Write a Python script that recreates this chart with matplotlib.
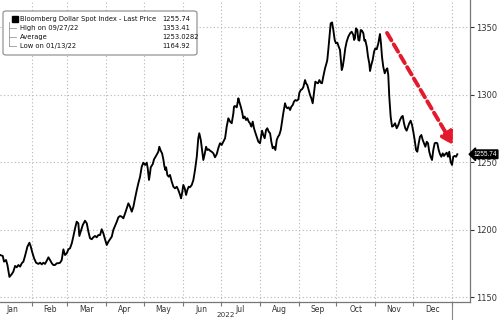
import numpy as np
import matplotlib
matplotlib.use('Agg')
import matplotlib.pyplot as plt
import matplotlib.transforms as mtransforms
from matplotlib.patches import FancyBboxPatch, Rectangle

# days since 2022-01-01 and index level
days = [5.6, 7.7, 8.7, 10.3, 11.4, 13.0, 14.9, 16.1, 17.5, 18.8, 20.1, 21.5, 22.8, 24.1, 25.4, 27.3, 28.9, 30.0,
        31.0, 32.6, 34.2, 36.0, 37.4, 38.7, 40.0, 41.3, 42.7, 44.0, 45.3, 46.7, 47.9, 49.3, 50.6, 51.9, 53.3, 54.6,
        55.9, 57.2, 58.6, 59.9, 61.2, 62.6, 63.8, 65.2, 66.5, 67.8, 68.6, 69.7, 71.3, 73.1, 74.5, 75.8, 77.1, 78.5,
        79.7, 81.1, 82.4, 83.7, 85.1, 86.4, 87.7, 89.0, 90.4, 91.7, 93.0, 94.4, 95.6, 97.0, 98.4, 99.6, 101.0,
        102.3, 103.6, 105.0, 106.3, 107.6, 108.9, 110.3, 111.6, 112.9, 114.3, 115.5, 116.9, 118.2, 119.5, 120.9,
        122.2, 123.0, 124.0, 124.8, 125.4, 127.0, 128.0, 129.6, 131.4, 132.2, 133.3, 134.4, 135.4, 136.2, 137.0,
        137.6, 138.6, 139.7, 140.7, 142.1, 143.4, 144.7, 146.1, 147.3, 148.7, 149.5, 150.3, 151.3, 152.4, 153.5,
        154.5, 155.6, 156.6, 158.0, 159.3, 160.6, 162.0, 163.2, 164.0, 165.2, 166.2, 167.2, 168.3, 169.4, 170.4,
        171.5, 172.5, 173.9, 175.2, 176.5, 177.9, 179.1, 180.5, 181.8, 183.1, 184.5, 185.8, 187.1, 188.5, 189.8,
        191.1, 191.6, 192.4, 193.8, 195.1, 195.8, 197.0, 198.0, 199.0, 200.1, 201.2, 202.2, 203.3, 204.3, 205.4,
        206.5, 207.5, 208.6, 209.7, 211.0, 212.3, 213.1, 213.9, 214.9, 216.0, 217.1, 218.1, 219.2, 220.3, 221.3,
        222.4, 223.4, 224.5, 225.6, 226.6, 227.6, 228.8, 229.8, 230.8, 232.2, 233.0, 234.0, 235.1, 236.2, 237.2,
        238.3, 239.3, 240.4, 241.5, 242.8, 243.6, 244.7, 245.7, 246.7, 248.1, 248.9, 249.9, 251.0, 252.1, 253.1,
        254.2, 255.2, 256.3, 257.4, 258.4, 259.5, 260.6, 261.6, 262.6, 264.0, 265.3, 265.8, 266.6, 267.4, 268.5,
        269.6, 270.6, 271.7, 272.7, 273.8, 274.9, 275.9, 277.3, 278.1, 279.1, 280.1, 281.2, 282.5, 283.9, 285.2,
        286.5, 287.1, 287.8, 288.6, 289.7, 290.5, 291.3, 292.4, 293.4, 294.5, 295.3, 296.0, 297.2, 298.2, 299.2,
        299.8, 300.8, 301.9, 303.0, 304.0, 305.1, 306.4, 307.7, 308.5, 309.3, 310.3, 311.5, 312.5, 313.5, 314.3,
        315.1, 316.2, 317.3, 318.3, 319.7, 321.0, 322.3, 323.6, 325.0, 325.8, 326.8, 327.8, 328.9, 330.0, 331.0,
        332.1, 333.2, 334.2, 335.3, 336.4, 337.4, 338.5, 339.5, 340.6, 341.7, 342.7, 343.8, 344.9, 345.9, 346.9,
        348.0, 349.1, 350.1, 351.2, 352.3, 353.3, 354.4, 355.4, 356.5, 357.6, 358.6, 359.7, 360.8, 361.8, 362.8,
        363.9, 365.0, 366.0, 367.1, 368.2, 369.2]
values = [1181.1, 1180.4, 1176.2, 1177.4, 1173.7, 1164.9, 1167.0, 1168.8, 1173.0, 1172.0, 1173.7, 1172.5, 1175.0,
          1176.2, 1180.4, 1187.3, 1190.2, 1187.3, 1183.6, 1178.7, 1175.4, 1174.5, 1175.4, 1174.2, 1175.4, 1174.5,
          1176.9, 1179.4, 1177.4, 1175.0, 1173.7, 1173.7, 1175.0, 1175.0, 1175.4, 1177.4, 1185.3, 1181.1, 1182.4,
          1185.3, 1186.1, 1189.8, 1194.7, 1200.9, 1205.8, 1204.6, 1195.2, 1198.4, 1203.3, 1206.5, 1204.6, 1198.4,
          1193.5, 1192.8, 1194.2, 1195.2, 1194.2, 1195.9, 1195.9, 1200.2, 1197.2, 1192.8, 1188.5, 1191.0, 1192.8,
          1194.7, 1199.6, 1202.6, 1205.8, 1209.0, 1210.0, 1209.5, 1208.3, 1212.0, 1215.7, 1219.4, 1216.9, 1213.2,
          1216.9, 1223.1, 1229.3, 1234.2, 1239.1, 1246.5, 1249.5, 1247.8, 1249.5, 1245.3, 1236.7, 1241.6, 1246.1,
          1248.5, 1252.0, 1254.5, 1257.6, 1261.3, 1258.4, 1256.4, 1252.0, 1247.0, 1244.1, 1246.1, 1240.4, 1239.1,
          1240.4, 1235.4, 1231.7, 1230.5, 1231.7, 1229.3, 1225.6, 1223.1, 1226.8, 1233.0, 1230.5, 1225.6, 1229.3,
          1231.7, 1231.3, 1233.0, 1236.7, 1244.1, 1253.9, 1267.6, 1271.3, 1266.3, 1258.9, 1251.5, 1255.9, 1261.3,
          1258.9, 1259.4, 1258.4, 1257.6, 1256.4, 1253.5, 1255.9, 1260.2, 1263.9, 1262.6, 1265.0, 1267.6, 1276.2,
          1282.4, 1279.9, 1278.7, 1286.1, 1291.0, 1291.5, 1290.5, 1297.2, 1294.7, 1291.0, 1287.3, 1282.4, 1283.6,
          1281.1, 1282.4, 1279.9, 1278.7, 1276.2, 1279.9, 1275.0, 1271.7, 1268.7, 1265.0, 1263.9, 1268.7, 1273.2,
          1270.0, 1267.6, 1273.7, 1275.0, 1272.5, 1271.3, 1265.0, 1260.2, 1261.3, 1258.9, 1266.3, 1268.7, 1270.0,
          1273.7, 1279.9, 1286.1, 1293.5, 1291.0, 1289.8, 1290.5, 1288.5, 1291.0, 1292.2, 1294.7, 1295.9, 1295.4,
          1296.4, 1301.3, 1303.3, 1303.9, 1305.3, 1310.7, 1308.3, 1307.0, 1303.3, 1299.6, 1297.2, 1293.5, 1301.3,
          1309.5, 1308.7, 1308.3, 1310.7, 1308.7, 1308.3, 1313.2, 1319.4, 1323.6, 1325.6, 1333.0, 1341.6, 1352.7,
          1353.4, 1347.8, 1340.4, 1337.9, 1338.4, 1335.4, 1333.0, 1318.1, 1320.6, 1326.8, 1334.2, 1339.1, 1342.8,
          1345.3, 1346.5, 1344.1, 1340.4, 1341.6, 1349.0, 1347.8, 1340.4, 1339.9, 1347.8, 1347.3, 1345.3, 1339.9,
          1340.4, 1335.4, 1328.0, 1323.1, 1317.4, 1321.9, 1325.6, 1331.7, 1334.2, 1333.5, 1337.9, 1344.8, 1337.9,
          1328.0, 1320.6, 1315.7, 1318.1, 1319.4, 1314.4, 1298.4, 1283.6, 1276.2, 1276.7, 1278.7, 1275.0, 1277.4,
          1281.1, 1283.6, 1284.1, 1278.7, 1275.0, 1273.2, 1276.2, 1278.7, 1280.6, 1277.4, 1272.5, 1266.3, 1258.9,
          1257.6, 1263.9, 1268.7, 1270.0, 1266.3, 1263.9, 1261.3, 1265.0, 1263.9, 1257.6, 1253.9, 1251.5, 1258.9,
          1263.9, 1264.3, 1263.9, 1258.9, 1255.9, 1253.9, 1256.4, 1254.5, 1255.9, 1256.9, 1253.9, 1257.6, 1250.2,
          1247.8, 1253.9, 1254.5, 1253.9, 1255.74]

months = ['Jan', 'Feb', 'Mar', 'Apr', 'May', 'Jun', 'Jul', 'Aug', 'Sep', 'Oct', 'Nov', 'Dec']
month_len = [31, 28, 31, 30, 31, 30, 31, 31, 30, 31, 30, 31]
yticks = [1150, 1200, 1250, 1300, 1350]

legend_labels = ['Bloomberg Dollar Spot Index - Last Price', 'High on 09/27/22', 'Average', 'Low on 01/13/22']
legend_values = ['1255.74', '1353.41', '1253.0282', '1164.92']

# trend arrow (day, level)
arrow_start = (313.3, 1345.6)
arrow_end = (365.8, 1262.6)

month_start = np.concatenate([[0], np.cumsum(month_len)])
month_mid = (month_start[:-1] + month_start[1:]) / 2

fig = plt.figure(figsize=(5, 3.2), dpi=100)
ax = fig.add_axes([0.0, 18 / 320, 470 / 500, 302 / 320])

ax.plot(days, values, color='black', lw=1.35, solid_joinstyle='round')

ax.set_xlim(5.5, 379.3)
ax.set_ylim(1146.3, 1370)

ax.set_xticks(month_start[1:])
ax.set_xticklabels([])
ax.set_xticks(month_mid, minor=True)
ax.set_xticklabels(months, minor=True)
ax.tick_params(axis='x', which='major', length=3, color='#777', direction='out')
ax.tick_params(axis='x', which='minor', length=0, labelsize=5.5, labelcolor='#333', pad=2)

ax.yaxis.tick_right()
ax.set_yticks(yticks)
ax.set_yticklabels([str(t) for t in yticks])
ax.tick_params(axis='y', length=3, color='#333', labelsize=6, labelcolor='#333', pad=1.5)

ax.grid(True, which='major', color='#b5b5b5', linestyle=(0, (1, 2.2)), lw=0.8)
for s in ['top', 'left']:
    ax.spines[s].set_visible(False)
for s in ['right', 'bottom']:
    ax.spines[s].set_color('#777')
    ax.spines[s].set_linewidth(0.9)

tr = mtransforms.blended_transform_factory(ax.transData, ax.transAxes)
ax.text(month_start[6] + 4, -0.034, '2022', transform=tr, ha='center', va='top', fontsize=5.2, color='#333')

# year divider below the axis
ax.plot([month_start[12], month_start[12]], [-0.01, -0.07], transform=tr, color='#888', lw=0.8, clip_on=False)

# dashed red trend arrow
ax.annotate('', xy=arrow_end, xytext=arrow_start,
            arrowprops=dict(arrowstyle='-|>,head_length=0.7,head_width=0.4', color='#e3192c', lw=2.8,
                            linestyle=(0, (2.2, 1.2)), shrinkA=0, shrinkB=0))

# last price tag
ax.annotate(legend_values[0], xy=(1.0, values[-1]), xycoords=('axes fraction', 'data'),
            xytext=(2.6, 0), textcoords='offset points', ha='left', va='center', fontsize=4.7,
            family='Liberation Sans', color='white',
            bbox=dict(boxstyle='larrow,pad=0.12', fc='black', ec='black'), annotation_clip=False)

# legend box
fig.patches.append(FancyBboxPatch((3 / 500, 1 - 55 / 320), 194 / 500, 44 / 320,
                                  boxstyle='round,pad=0,rounding_size=0.006', transform=fig.transFigure,
                                  fc='white', ec='#888', lw=0.8))
rows_y = [19, 28, 37, 46]
for lab, val, ry in zip(legend_labels, legend_values, rows_y):
    fig.text(20 / 500, 1 - ry / 320, lab, fontsize=4.85, va='center', ha='left', color='#111')
    fig.text(162 / 500, 1 - ry / 320, val, fontsize=4.85, va='center', ha='left', color='#111')
fig.patches.append(Rectangle((12 / 500, 1 - 22 / 320), 6 / 500, 6 / 320, transform=fig.transFigure,
                             fc='black', ec='black'))
fig.lines.append(plt.Line2D([9 / 500, 9 / 500], [1 - 22 / 320, 1 - 46 / 320], transform=fig.transFigure,
                            color='#999', lw=0.6))
for ry in rows_y[1:]:
    fig.lines.append(plt.Line2D([9 / 500, 16 / 500], [1 - ry / 320, 1 - ry / 320], transform=fig.transFigure,
                                color='#999', lw=0.6))

fig.savefig('out.png', dpi=100)
